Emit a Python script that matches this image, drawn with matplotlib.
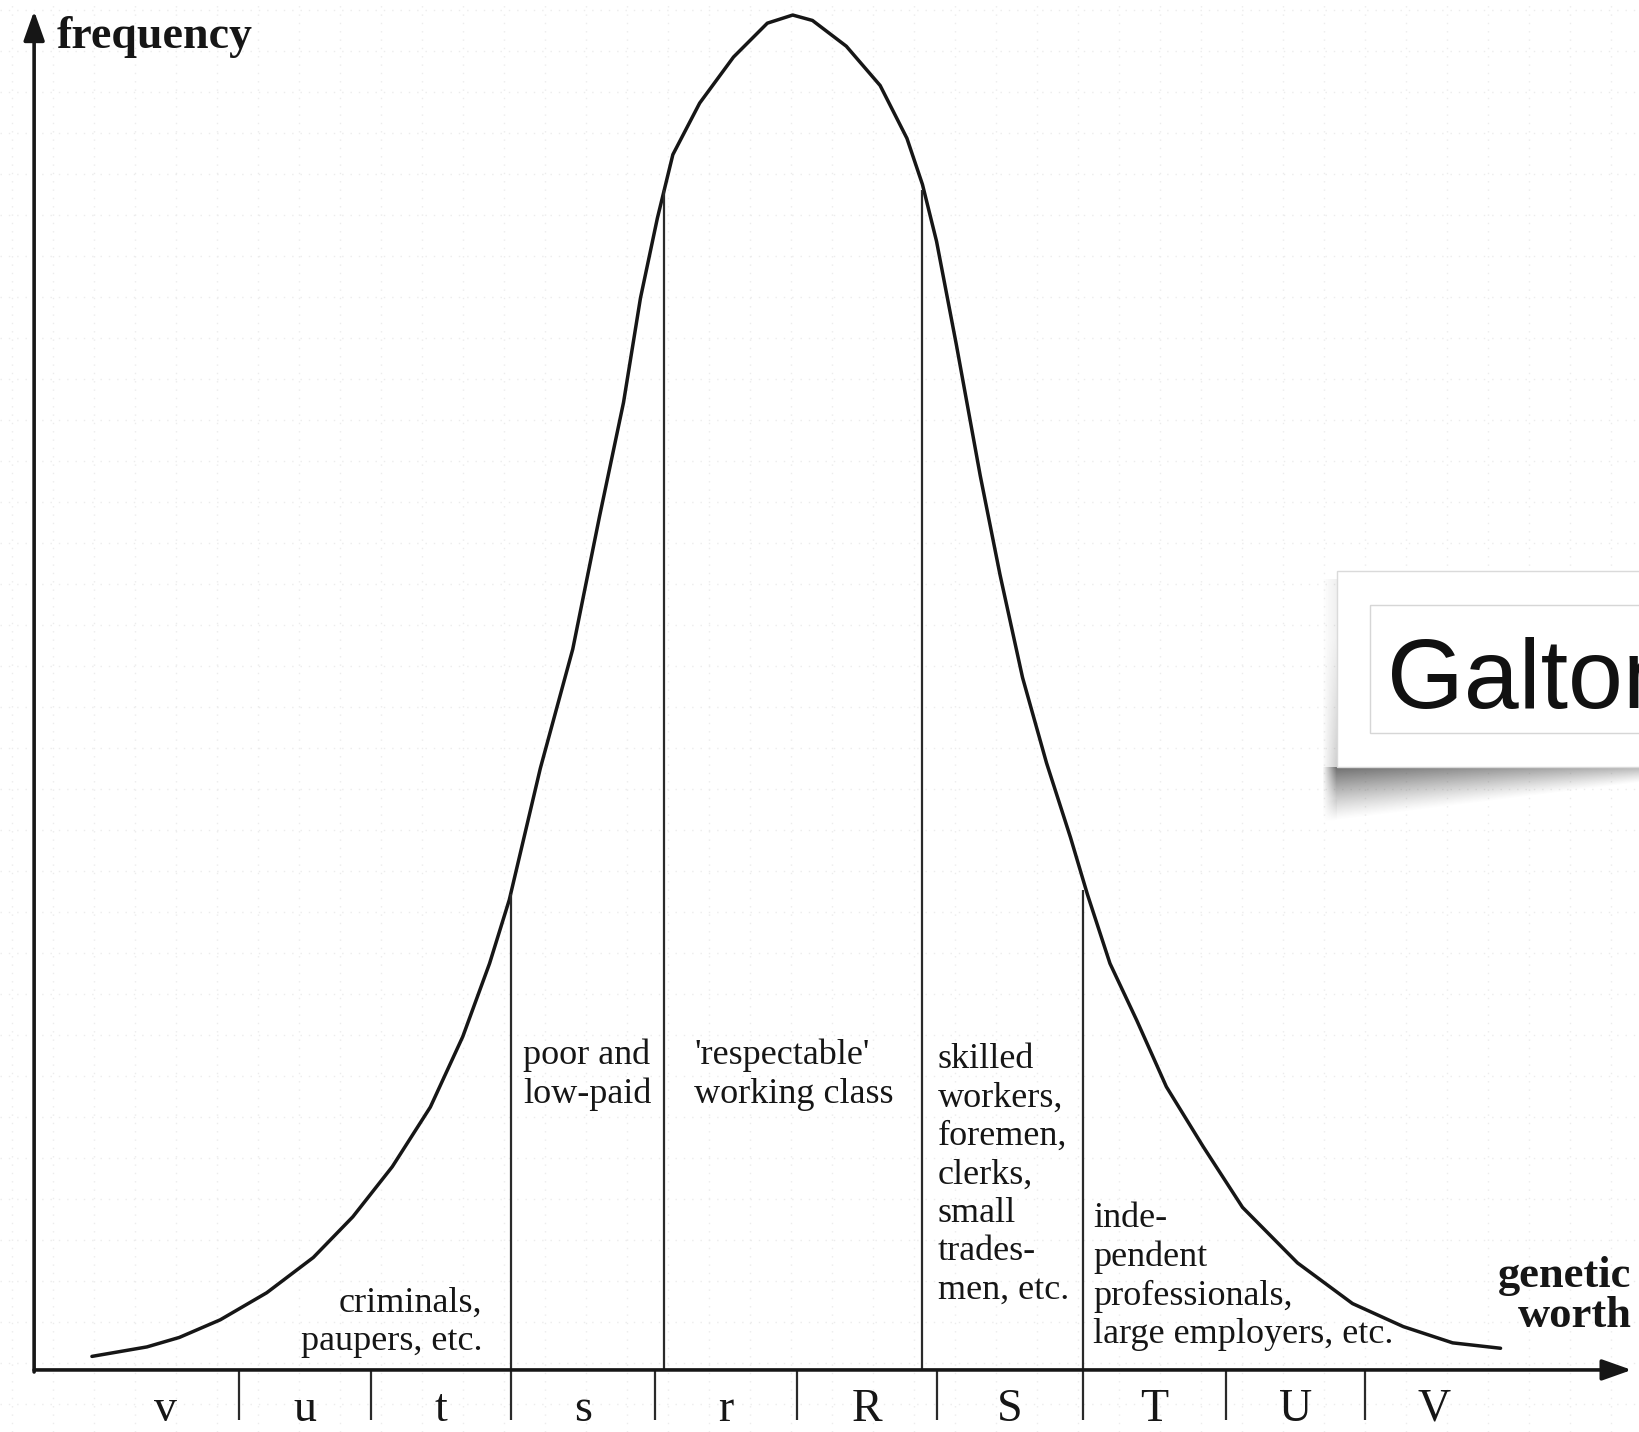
import matplotlib.pyplot as plt
import numpy as np
from matplotlib.patches import Rectangle

# bell curve: x in grades (0 = boundary r|R), y as share of the peak
curve_x = [-5.00, -4.61, -4.38, -4.09, -3.76, -3.43, -3.15, -2.87, -2.60, -2.37,
           -2.18, -2.04, -1.82, -1.59, -1.40, -1.23, -1.11, -0.99, -0.88, -0.69,
           -0.45, -0.21, -0.03, 0.11, 0.35, 0.59, 0.78, 0.89, 0.99, 1.13,
           1.30, 1.44, 1.60, 1.77, 1.94, 2.06, 2.22, 2.41, 2.62, 2.88,
           3.16, 3.55, 3.94, 4.30, 4.65, 4.99]
curve_y = [0.010, 0.017, 0.024, 0.037, 0.057, 0.083, 0.113, 0.150, 0.194, 0.246,
           0.300, 0.347, 0.444, 0.532, 0.630, 0.714, 0.791, 0.850, 0.897, 0.935,
           0.969, 0.994, 1.000, 0.996, 0.977, 0.948, 0.909, 0.875, 0.833, 0.757,
           0.660, 0.587, 0.511, 0.448, 0.393, 0.351, 0.300, 0.258, 0.209, 0.165,
           0.120, 0.079, 0.049, 0.032, 0.020, 0.016]

# vertical class boundaries and how high they reach
bound_x = [-2.03, -0.94, 0.89, 2.03]
bound_y = [0.351, 0.871, 0.871, 0.354]

# grade ticks under the axis and the grade letters between them
tick_x = [-3.96, -3.02, -2.03, -1.01, 0.00, 0.99, 2.03, 3.04, 4.03]
grade_labels = ['v', 'u', 't', 's', 'r', 'R', 'S', 'T', 'U', 'V']
grade_edges = [-5.0] + tick_x + [5.0]

class_labels = ['criminals,\npaupers, etc.',
                'poor and\nlow-paid',
                "'respectable'\nworking class",
                'skilled\nworkers,\nforemen,\nclerks,\nsmall\ntrades-\nmen, etc.',
                'inde-\npendent\nprofessionals,\nlarge employers, etc.']

ink = '#161616'
serif = 'Liberation Serif'

fig = plt.figure(figsize=(16.4, 14.32), dpi=100)
fig.patch.set_facecolor('white')

# faint dotted paper texture behind everything
bg = fig.add_axes([0, 0, 1, 1], zorder=0)
bg.set_xlim(0, 1640)
bg.set_ylim(1432, 0)
bg.axis('off')
for g in np.arange(10, 1432, 41):
    bg.axhline(g, color='#ececec', lw=1, ls=(0, (1, 5)))
for g in np.arange(12, 1640, 41):
    bg.axvline(g, color='#ececec', lw=1, ls=(0, (1, 5)))

ax = fig.add_axes([0, 0, 1, 1], zorder=1)
ax.patch.set_alpha(0)
ax.set_xlim(-5.652, 5.979)
ax.set_ylim(-0.0458, 1.0111)
ax.axis('off')

ax.plot(curve_x, curve_y, color=ink, lw=2.5, solid_joinstyle='round', solid_capstyle='round')
ax.vlines(bound_x, 0, bound_y, color='#2a2a2a', lw=1.6)
ax.vlines(tick_x, -0.037, 0, color='#2a2a2a', lw=1.6)

# axes with arrow heads
y_axis_x = -5.41
arrow = dict(arrowstyle='-|>,head_length=0.9,head_width=0.32', lw=2.6, color=ink,
             shrinkA=0, shrinkB=0, mutation_scale=20)
ax.annotate('', xy=(y_axis_x, 1.003), xytext=(y_axis_x, -0.0015), arrowprops=arrow)
ax.annotate('', xy=(5.92, 0), xytext=(y_axis_x, 0), arrowprops=arrow)

ax.text(-5.25, 0.984, 'frequency', family=serif, fontsize=33, fontweight='bold',
        color=ink, ha='left', va='center')
ax.text(5.92, 0.0546, 'genetic\nworth', family=serif, fontsize=32, fontweight='bold',
        color=ink, ha='right', va='center', multialignment='right', linespacing=1.0)

for i, lab in enumerate(grade_labels):
    ax.text((grade_edges[i] + grade_edges[i + 1]) / 2, -0.0450, lab, family=serif,
            fontsize=33, color=ink, ha='center', va='bottom')

lab_kw = dict(family=serif, fontsize=26, color=ink, va='center', linespacing=1.22)
ax.text(-2.23, 0.035, class_labels[0], ha='right', multialignment='right', **lab_kw)
ax.text(-1.94, 0.218, class_labels[1], ha='left', **lab_kw)
ax.text(-0.73, 0.218, class_labels[2], ha='left', **lab_kw)
ax.text(1.00, 0.144, class_labels[3], ha='left', **lab_kw)
ax.text(2.10, 0.069, class_labels[4], ha='left', **lab_kw)

# callout box pasted over the right side
ov = fig.add_axes([0, 0, 1, 1], zorder=5)
ov.patch.set_alpha(0)
ov.axis('off')

xs = np.arange(1318, 1641)
ys = np.arange(560, 832)
X, Y = np.meshgrid(xs, ys)
low = 820 - (X - 1337) * 38 / 303.0
t = (Y - 767) / (low - 767)
a_bot = np.where((Y >= 767) & (t < 1), 0.8 * np.clip(1 - t, 0, 1) ** 1.2, 0)
a_bot = a_bot * (1 - 0.5 * np.clip((X - 1337) / 303.0, 0, 1)) * np.clip((X - 1322) / 14.0, 0, 1)
a_left = np.where((X < 1337) & (Y > 578), 0.3 * np.clip((X - 1322) / 15.0, 0, 1)
                  * np.clip((Y - 578) / 200.0, 0.3, 1) * np.clip((low - Y) / 20.0, 0, 1), 0)
alpha = np.maximum(a_bot, a_left)
shade = np.zeros((len(ys), len(xs), 4))
shade[..., :3] = 0.3
shade[..., 3] = alpha
ov.imshow(shade, extent=(1318, 1641, 832, 560), origin='upper', interpolation='bilinear', zorder=1)
ov.set_xlim(0, 1640)
ov.set_ylim(1432, 0)

ov.add_patch(Rectangle((1337, 571), 320, 196, fc='white', ec='#dadada', lw=1, zorder=2))
ov.add_patch(Rectangle((1370, 605), 300, 128, fc='none', ec='#d6d6d6', lw=1, zorder=3))
ov.text(1387, 708, 'Galton', family='Liberation Sans', fontsize=71, color='#111111',
        ha='left', va='baseline', zorder=4)

fig.savefig('out.png', dpi=100)
